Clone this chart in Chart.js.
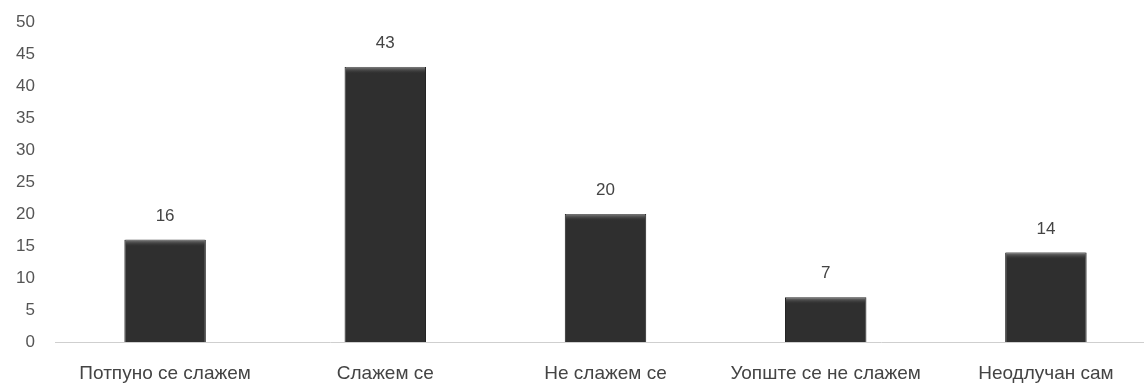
<!DOCTYPE html>
<html>
<head>
<meta charset="utf-8">
<script src="https://cdn.jsdelivr.net/npm/chart.js@4"></script>
<style>
  html, body { margin: 0; padding: 0; background: #fff; overflow: hidden; }
  #wrap { width: 1156px; height: 383px; }
</style>
</head>
<body>
<div id="wrap"><canvas id="barChart"></canvas></div>
<script>
// categories and values
const labels = ['Потпуно се слажем', 'Слажем се', 'Не слажем се', 'Уопште се не слажем', 'Неодлучан сам'];
const values = [16, 43, 20, 7, 14];
const yTicks = [0, 5, 10, 15, 20, 25, 30, 35, 40, 45, 50];

const FONT = "'Liberation Sans', Arial, sans-serif";

// numbers above the bars + light top edge on each bar
const valueLabels = {
    id: 'valueLabels',
    afterDatasetsDraw(chart) {
        const ctx = chart.ctx;
        const meta = chart.getDatasetMeta(0);
        ctx.save();
        meta.data.forEach((bar) => {
            const left = bar.x - bar.width / 2;
            const g = ctx.createLinearGradient(0, bar.y, 0, bar.y + 7);
            g.addColorStop(0, 'rgba(140,140,140,0.9)');
            g.addColorStop(1, 'rgba(47,47,47,0)');
            ctx.fillStyle = g;
            ctx.fillRect(left + 1, bar.y, bar.width - 2, 7);
        });
        ctx.font = '17px ' + FONT;
        ctx.fillStyle = '#444';
        ctx.textAlign = 'center';
        ctx.textBaseline = 'bottom';
        meta.data.forEach((bar, i) => {
            ctx.fillText(values[i], bar.x, bar.y - 15);
        });
        ctx.restore();
    }
};

const barChart = document.getElementById('barChart');

new Chart(barChart, {
    type: 'bar',
    data: {
        labels: labels,
        datasets: [
            {
                data: values,
                backgroundColor: '#2f2f2f',
                borderColor: '#1c1c1c',
                borderWidth: 1,
                barPercentage: 0.37,
                categoryPercentage: 1
            }
        ]
    },
    options: {
        responsive: true,
        maintainAspectRatio: false,
        animation: false,
        layout: { padding: { top: 22, right: 0, bottom: 0, left: 0 } },
        plugins: { legend: { display: false }, tooltip: { enabled: false } },
        scales: {
            x: {
                grid: { display: false },
                border: { display: true, color: '#cfcfcf', width: 1 },
                ticks: { color: '#444', font: { family: FONT, size: 19 }, padding: 12, maxRotation: 0 },
                afterFit(scale) { scale.height = 41; }
            },
            y: {
                min: 0,
                max: 50,
                afterBuildTicks(scale) { scale.ticks = yTicks.map(v => ({ value: v })); },
                grid: { display: false },
                border: { display: false },
                ticks: { color: '#555', font: { family: FONT, size: 17 }, padding: 12 },
                afterFit(scale) { scale.width = 55; }
            }
        }
    },
    plugins: [valueLabels]
});
</script>
</body>
</html>
